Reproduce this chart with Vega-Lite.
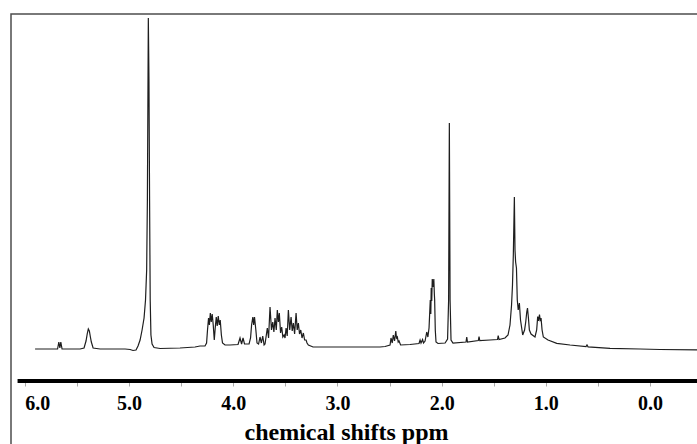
{
  "$schema": "https://vega.github.io/schema/vega-lite/v6.json",
  "width": 688,
  "height": 432,
  "autosize": {"type": "none"},
  "padding": {"left": 11, "top": 14, "right": 0, "bottom": 0},
  "background": "white",
  "config": {"view": {"stroke": "#4d4d4d", "strokeWidth": 1.5}},
  "datasets": {
    "spectrum": [
      {"ppm": 5.902, "intensity": 0}, {"ppm": 5.758, "intensity": 0}, {"ppm": 5.686, "intensity": 0},
      {"ppm": 5.674, "intensity": 7}, {"ppm": 5.664, "intensity": 1}, {"ppm": 5.655, "intensity": 7},
      {"ppm": 5.643, "intensity": 0}, {"ppm": 5.47, "intensity": 0}, {"ppm": 5.432, "intensity": 1},
      {"ppm": 5.413, "intensity": 8}, {"ppm": 5.4, "intensity": 16}, {"ppm": 5.391, "intensity": 20},
      {"ppm": 5.381, "intensity": 18}, {"ppm": 5.371, "intensity": 12}, {"ppm": 5.362, "intensity": 7},
      {"ppm": 5.345, "intensity": 1}, {"ppm": 5.278, "intensity": 0}, {"ppm": 5.038, "intensity": 0},
      {"ppm": 4.99, "intensity": -0.5}, {"ppm": 4.962, "intensity": -1.5}, {"ppm": 4.933, "intensity": -1},
      {"ppm": 4.914, "intensity": 3}, {"ppm": 4.894, "intensity": 9}, {"ppm": 4.875, "intensity": 19},
      {"ppm": 4.856, "intensity": 31}, {"ppm": 4.842, "intensity": 49}, {"ppm": 4.831, "intensity": 79},
      {"ppm": 4.824, "intensity": 149}, {"ppm": 4.819, "intensity": 249}, {"ppm": 4.815, "intensity": 331},
      {"ppm": 4.809, "intensity": 269}, {"ppm": 4.803, "intensity": 149}, {"ppm": 4.797, "intensity": 49},
      {"ppm": 4.79, "intensity": 14}, {"ppm": 4.779, "intensity": 5}, {"ppm": 4.76, "intensity": 1.5},
      {"ppm": 4.702, "intensity": 0.5}, {"ppm": 4.511, "intensity": 1}, {"ppm": 4.367, "intensity": 2},
      {"ppm": 4.319, "intensity": 3}, {"ppm": 4.271, "intensity": 3}, {"ppm": 4.256, "intensity": 6},
      {"ppm": 4.247, "intensity": 19}, {"ppm": 4.237, "intensity": 31}, {"ppm": 4.229, "intensity": 24},
      {"ppm": 4.22, "intensity": 36}, {"ppm": 4.211, "intensity": 27}, {"ppm": 4.202, "intensity": 35},
      {"ppm": 4.192, "intensity": 24}, {"ppm": 4.182, "intensity": 9}, {"ppm": 4.173, "intensity": 21},
      {"ppm": 4.163, "intensity": 32}, {"ppm": 4.154, "intensity": 23}, {"ppm": 4.144, "intensity": 33},
      {"ppm": 4.134, "intensity": 24}, {"ppm": 4.125, "intensity": 29}, {"ppm": 4.114, "intensity": 14},
      {"ppm": 4.103, "intensity": 6}, {"ppm": 4.079, "intensity": 4}, {"ppm": 4.031, "intensity": 4},
      {"ppm": 3.954, "intensity": 4.5}, {"ppm": 3.935, "intensity": 11}, {"ppm": 3.92, "intensity": 5},
      {"ppm": 3.906, "intensity": 11}, {"ppm": 3.892, "intensity": 5}, {"ppm": 3.848, "intensity": 5},
      {"ppm": 3.834, "intensity": 11}, {"ppm": 3.824, "intensity": 24}, {"ppm": 3.812, "intensity": 32},
      {"ppm": 3.804, "intensity": 24}, {"ppm": 3.796, "intensity": 32}, {"ppm": 3.783, "intensity": 19},
      {"ppm": 3.772, "intensity": 6}, {"ppm": 3.757, "intensity": 5}, {"ppm": 3.743, "intensity": 12},
      {"ppm": 3.73, "intensity": 6}, {"ppm": 3.717, "intensity": 13}, {"ppm": 3.704, "intensity": 4},
      {"ppm": 3.695, "intensity": 5}, {"ppm": 3.673, "intensity": 21}, {"ppm": 3.661, "intensity": 11},
      {"ppm": 3.647, "intensity": 42}, {"ppm": 3.633, "intensity": 19}, {"ppm": 3.621, "intensity": 27},
      {"ppm": 3.61, "intensity": 17}, {"ppm": 3.599, "intensity": 31}, {"ppm": 3.587, "intensity": 19},
      {"ppm": 3.577, "intensity": 39}, {"ppm": 3.567, "intensity": 27}, {"ppm": 3.558, "intensity": 36},
      {"ppm": 3.546, "intensity": 16}, {"ppm": 3.535, "intensity": 22}, {"ppm": 3.524, "intensity": 12},
      {"ppm": 3.512, "intensity": 14}, {"ppm": 3.503, "intensity": 11}, {"ppm": 3.493, "intensity": 21},
      {"ppm": 3.482, "intensity": 13}, {"ppm": 3.471, "intensity": 39}, {"ppm": 3.458, "intensity": 19},
      {"ppm": 3.445, "intensity": 32}, {"ppm": 3.434, "intensity": 18}, {"ppm": 3.423, "intensity": 26},
      {"ppm": 3.411, "intensity": 15}, {"ppm": 3.397, "intensity": 36}, {"ppm": 3.386, "intensity": 19},
      {"ppm": 3.375, "intensity": 26}, {"ppm": 3.364, "intensity": 15}, {"ppm": 3.352, "intensity": 19},
      {"ppm": 3.34, "intensity": 11}, {"ppm": 3.327, "intensity": 16}, {"ppm": 3.315, "intensity": 9},
      {"ppm": 3.301, "intensity": 9}, {"ppm": 3.292, "intensity": 6}, {"ppm": 3.279, "intensity": 4},
      {"ppm": 3.234, "intensity": 2}, {"ppm": 3.071, "intensity": 2}, {"ppm": 2.783, "intensity": 2},
      {"ppm": 2.591, "intensity": 2}, {"ppm": 2.543, "intensity": 2.5}, {"ppm": 2.495, "intensity": 4},
      {"ppm": 2.486, "intensity": 11}, {"ppm": 2.474, "intensity": 6}, {"ppm": 2.464, "intensity": 14},
      {"ppm": 2.452, "intensity": 8}, {"ppm": 2.44, "intensity": 18}, {"ppm": 2.433, "intensity": 11},
      {"ppm": 2.425, "intensity": 12}, {"ppm": 2.417, "intensity": 7}, {"ppm": 2.409, "intensity": 8},
      {"ppm": 2.394, "intensity": 4}, {"ppm": 2.303, "intensity": 4.5}, {"ppm": 2.217, "intensity": 5.5},
      {"ppm": 2.207, "intensity": 9}, {"ppm": 2.198, "intensity": 6}, {"ppm": 2.183, "intensity": 9.5},
      {"ppm": 2.174, "intensity": 6}, {"ppm": 2.159, "intensity": 8}, {"ppm": 2.143, "intensity": 17},
      {"ppm": 2.132, "intensity": 12}, {"ppm": 2.121, "intensity": 21}, {"ppm": 2.109, "intensity": 49},
      {"ppm": 2.104, "intensity": 35}, {"ppm": 2.1, "intensity": 61}, {"ppm": 2.095, "intensity": 48},
      {"ppm": 2.09, "intensity": 70}, {"ppm": 2.083, "intensity": 62}, {"ppm": 2.075, "intensity": 70},
      {"ppm": 2.07, "intensity": 55}, {"ppm": 2.067, "intensity": 49}, {"ppm": 2.061, "intensity": 19},
      {"ppm": 2.054, "intensity": 7}, {"ppm": 2.035, "intensity": 5.5}, {"ppm": 1.967, "intensity": 6},
      {"ppm": 1.943, "intensity": 10}, {"ppm": 1.933, "intensity": 49}, {"ppm": 1.926, "intensity": 226},
      {"ppm": 1.919, "intensity": 49}, {"ppm": 1.91, "intensity": 9}, {"ppm": 1.891, "intensity": 6},
      {"ppm": 1.766, "intensity": 7}, {"ppm": 1.759, "intensity": 12}, {"ppm": 1.752, "intensity": 7},
      {"ppm": 1.648, "intensity": 8.5}, {"ppm": 1.641, "intensity": 12.5}, {"ppm": 1.634, "intensity": 8.5},
      {"ppm": 1.536, "intensity": 9}, {"ppm": 1.464, "intensity": 9.5}, {"ppm": 1.457, "intensity": 13.5},
      {"ppm": 1.449, "intensity": 9.5}, {"ppm": 1.392, "intensity": 11}, {"ppm": 1.363, "intensity": 14},
      {"ppm": 1.344, "intensity": 24}, {"ppm": 1.329, "intensity": 44}, {"ppm": 1.32, "intensity": 64},
      {"ppm": 1.312, "intensity": 94}, {"ppm": 1.302, "intensity": 152}, {"ppm": 1.296, "intensity": 99},
      {"ppm": 1.29, "intensity": 87}, {"ppm": 1.282, "intensity": 81}, {"ppm": 1.274, "intensity": 49},
      {"ppm": 1.265, "intensity": 39}, {"ppm": 1.254, "intensity": 46}, {"ppm": 1.243, "intensity": 29},
      {"ppm": 1.222, "intensity": 14}, {"ppm": 1.204, "intensity": 19}, {"ppm": 1.193, "intensity": 27},
      {"ppm": 1.183, "intensity": 37}, {"ppm": 1.176, "intensity": 41}, {"ppm": 1.167, "intensity": 31},
      {"ppm": 1.158, "intensity": 19}, {"ppm": 1.142, "intensity": 15}, {"ppm": 1.104, "intensity": 12},
      {"ppm": 1.088, "intensity": 19}, {"ppm": 1.078, "intensity": 32.5}, {"ppm": 1.07, "intensity": 28},
      {"ppm": 1.061, "intensity": 34.5}, {"ppm": 1.054, "intensity": 29}, {"ppm": 1.046, "intensity": 31},
      {"ppm": 1.036, "intensity": 19}, {"ppm": 1.024, "intensity": 12}, {"ppm": 0.979, "intensity": 9},
      {"ppm": 0.895, "intensity": 5.7}, {"ppm": 0.768, "intensity": 4}, {"ppm": 0.614, "intensity": 2.5},
      {"ppm": 0.605, "intensity": 4}, {"ppm": 0.595, "intensity": 2.2}, {"ppm": 0.384, "intensity": 0.7},
      {"ppm": 0.096, "intensity": 0}, {"ppm": -0.096, "intensity": -0.5}, {"ppm": -0.48, "intensity": -1}
    ],
    "axisline": [{"from": 6.07, "to": -0.47, "level": -32}]
  },
  "layer": [
    {
      "data": {"name": "spectrum"},
      "mark": {"type": "line", "color": "#1e1e1e", "strokeWidth": 1.2, "clip": true},
      "encoding": {
        "x": {
          "field": "ppm",
          "type": "quantitative",
          "scale": {"domain": [-0.47, 6.133], "reverse": true, "nice": false, "zero": false},
          "axis": {
            "values": [0, 0.5, 1, 1.5, 2, 2.5, 3, 3.5, 4, 4.5, 5, 5.5, 6],
            "labelExpr": "datum.value % 1 === 0 ? format(datum.value, '.1f') : ''",
            "domain": false,
            "grid": false,
            "offset": -65,
            "ticks": true,
            "tickSize": 5,
            "tickColor": "#aaaaaa",
            "tickWidth": 1,
            "labelFont": "Liberation Serif",
            "labelFontWeight": "bold",
            "labelFontSize": 20,
            "labelColor": "black",
            "labelBaseline": "alphabetic",
            "labelPadding": 23,
            "labelDx": 5,
            "labelAlign": {"condition": {"test": "datum.value === 6", "value": "left"}, "value": "center"},
            "labelFlush": false,
            "labelOverlap": false,
            "title": "chemical shifts ppm",
            "titleFont": "Liberation Serif",
            "titleFontWeight": "bold",
            "titleFontSize": 24,
            "titleColor": "black",
            "titleX": 335,
            "titleY": 58,
            "titleBaseline": "alphabetic",
            "titleAlign": "center"
          }
        },
        "y": {
          "field": "intensity",
          "type": "quantitative",
          "scale": {"domain": [-97, 335], "nice": false, "zero": false},
          "axis": null
        }
      }
    },
    {
      "data": {"name": "axisline"},
      "mark": {"type": "rule", "color": "black", "strokeWidth": 4, "clip": true},
      "encoding": {
        "x": {"field": "from", "type": "quantitative"},
        "x2": {"field": "to"},
        "y": {"field": "level", "type": "quantitative"}
      }
    }
  ]
}
